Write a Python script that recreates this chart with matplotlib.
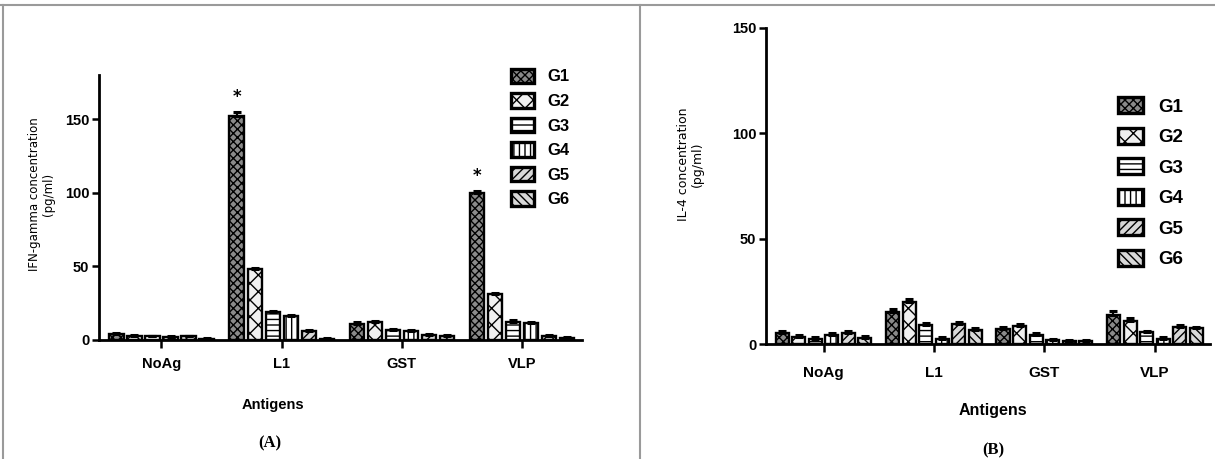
import numpy as np
import matplotlib.pyplot as plt
from matplotlib.lines import Line2D

plt.rcParams['font.family'] = ['Liberation Sans', 'DejaVu Sans']
plt.rcParams['font.weight'] = 'bold'
plt.rcParams['hatch.linewidth'] = 1.0

antigens = ['NoAg', 'L1', 'GST', 'VLP']
groups = ['G1', 'G2', 'G3', 'G4', 'G5', 'G6']

# IFN-gamma (pg/ml), one list per group across the antigens
ifn_g1 = [4, 152, 11, 100]
ifn_g2 = [3, 48, 12, 31]
ifn_g3 = [2.5, 19, 7, 12.5]
ifn_g4 = [2, 16, 6, 11.5]
ifn_g5 = [2.5, 6, 3.5, 3]
ifn_g6 = [1, 1, 3, 1.5]
ifn_err = [[0.8, 3, 1, 1.2], [0.6, 1, 1, 1], [0.5, 1, 0.6, 0.8],
           [0.5, 1, 0.6, 0.8], [0.5, 0.8, 0.5, 0.5], [0.3, 0.3, 0.5, 0.3]]

# IL-4 (pg/ml)
il4_g1 = [5, 15, 7, 14]
il4_g2 = [3.5, 20, 8.5, 11]
il4_g3 = [2.5, 9, 4.5, 5.5]
il4_g4 = [4.5, 2.5, 2, 2.5]
il4_g5 = [5, 9.5, 1.5, 8]
il4_g6 = [3, 6.5, 1.5, 7.5]
il4_err = [[1, 1.5, 1, 1.5], [0.8, 1.5, 1.2, 1.2], [0.6, 1.2, 0.8, 0.8],
           [0.8, 0.6, 0.5, 0.6], [1, 0.8, 0.5, 1], [0.6, 1, 0.5, 0.8]]

# asterisks mark significant G1 responses
ifn_star = [False, True, False, True]

hatches = ['xxxx', 'xx', '---', '|||', '////', '\\\\\\\\']
faces = ['#8a8a8a', '#f0f0f0', 'white', 'white', '#d8d8d8', '#d8d8d8']

pitch = 0.15
width = 0.118


def draw_panel(ax, series, errs, ylim, legend_pos, leg_font, leg_space,
               tick_font, cat_font, cat_pad):
    x = np.arange(len(antigens))
    for i, (vals, err) in enumerate(zip(series, errs)):
        pos = x + (i - 2.5) * pitch
        ax.bar(pos, vals, width, color=faces[i], edgecolor='black',
               linewidth=1.7, hatch=hatches[i], label=groups[i],
               yerr=[np.zeros(len(err)), err], capsize=3,
               error_kw=dict(elinewidth=1.6, capthick=2.2, ecolor='black'))
    ax.set_xlim(-0.52, 3.5)
    ax.set_ylim(*ylim)
    ax.set_yticks([0, 50, 100, 150])
    ax.set_xticks(x)
    ax.set_xticklabels(antigens, fontsize=cat_font)
    ax.tick_params(axis='y', labelsize=tick_font, width=1.8, length=5, pad=2)
    ax.tick_params(axis='x', width=1.8, length=6, pad=cat_pad)
    for s in ['top', 'right']:
        ax.spines[s].set_visible(False)
    for s in ['left', 'bottom']:
        ax.spines[s].set_linewidth(2)
    leg = ax.legend(loc='upper left', bbox_to_anchor=legend_pos, frameon=False,
                    fontsize=leg_font, labelspacing=leg_space,
                    handlelength=1.35, handleheight=0.95, handletextpad=0.8,
                    borderaxespad=0)
    for h in leg.legend_handles:
        h.set_linewidth(2.4)


fig = plt.figure(figsize=(12.15, 4.59), dpi=100)

# (A) IFN-gamma
ax1 = fig.add_axes([0.0815, 0.2593, 0.3975, 0.577])
draw_panel(ax1, [ifn_g1, ifn_g2, ifn_g3, ifn_g4, ifn_g5, ifn_g6],
           ifn_err, (0, 180), (0.84, 1.05), 12, 0.52, 10.5, 10.5, 6)
for j, star in enumerate(ifn_star):
    if star:
        top = ifn_g1[j] + ifn_err[0][j]
        ax1.text(j - 2.5 * pitch, top + 4, '*', ha='center', va='bottom',
                 fontsize=12, family='DejaVu Sans')
ax1.set_ylabel('IFN-gamma concentration\n(pg/ml)', family='DejaVu Sans',
               fontsize=8.5, linespacing=1.1)
ax1.yaxis.set_label_coords(-0.092, 0.55)
fig.text(273 / 1215, 1 - 405 / 459, 'Antigens', ha='center', va='center',
         fontsize=10.5)
fig.text(270 / 1215, 1 - 443 / 459, '(A)', ha='center', va='center',
         fontsize=12, family='Liberation Serif')

# (B) IL-4
ax2 = fig.add_axes([0.6305, 0.2505, 0.3655, 0.6885])
draw_panel(ax2, [il4_g1, il4_g2, il4_g3, il4_g4, il4_g5, il4_g6],
           il4_err, (0, 150), (0.775, 0.805), 13.5, 0.64, 10.5, 11, 10)
ax2.set_ylabel('IL-4 concentration\n(pg/ml)', family='DejaVu Sans',
               fontsize=9, linespacing=1.1)
ax2.yaxis.set_label_coords(-0.14, 0.57)
fig.text(993 / 1215, 1 - 410 / 459, 'Antigens', ha='center', va='center',
         fontsize=11.5)
fig.text(993 / 1215, 1 - 450 / 459, '(B)', ha='center', va='center',
         fontsize=12, family='Liberation Serif')

# outer frame and divider between the panels
frame = dict(color='#9a9a9a', lw=1.5)
fig.add_artist(Line2D([0, 1], [1 - 5 / 459, 1 - 5 / 459], **frame))
fig.add_artist(Line2D([3 / 1215, 3 / 1215], [0, 1 - 5 / 459], **frame))
fig.add_artist(Line2D([640 / 1215, 640 / 1215], [0, 1 - 5 / 459], **frame))

fig.savefig('out.png', dpi=100)
